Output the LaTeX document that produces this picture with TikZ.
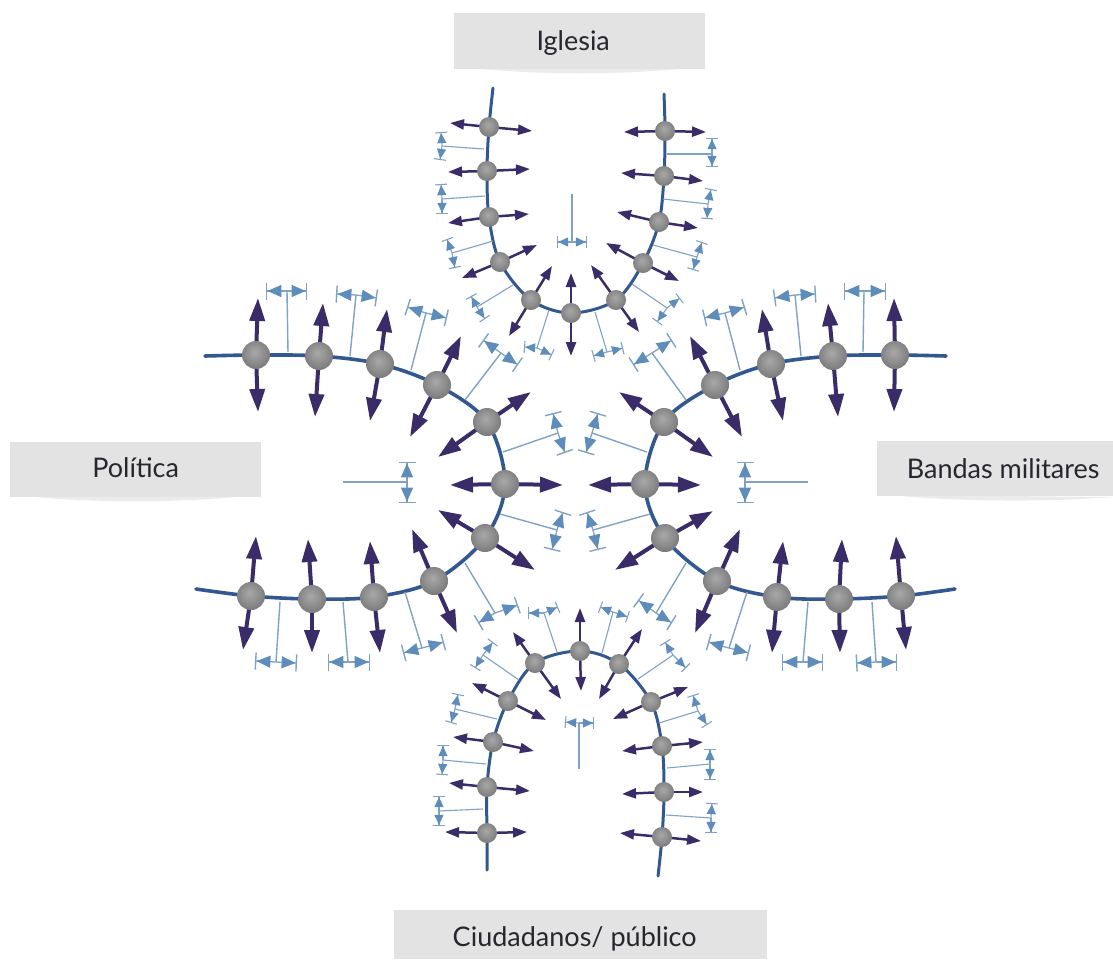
\documentclass[tikz,border=0pt]{standalone}
\usepackage{fontspec}
\setmainfont{Lato}
\usetikzlibrary{arrows.meta,backgrounds}
\definecolor{arrowc}{HTML}{3A2C68}
\definecolor{chainc}{HTML}{33578F}
\definecolor{dimc}{HTML}{5E8DBB}
\definecolor{stemc}{HTML}{7FA2C6}
\definecolor{boxc}{HTML}{E3E3E4}
\definecolor{labelc}{HTML}{26262E}
\pgfdeclareradialshading{ballshade}{\pgfpoint{-3bp}{6bp}}{%
  color(0bp)=(black!34);color(16bp)=(black!44);color(30bp)=(black!54);color(40bp)=(black!62);color(46bp)=(black!55);color(50bp)=(black!22)}
\tikzset{
  ballL/.style={circle,inner sep=0pt,minimum size=28pt,shading=ballshade},
  ballS/.style={circle,inner sep=0pt,minimum size=20pt,shading=ballshade},
  arrowL/.style={draw=arrowc,line width=4pt,-{Triangle[length=23pt,width=15pt,fill=arrowc]},shorten <=-1pt},
  arrowS/.style={draw=arrowc,line width=2.5pt,-{Triangle[length=14pt,width=10pt,fill=arrowc]},shorten <=-1pt},
  chainL/.style={draw=chainc,line width=3.6pt,line cap=round},
  chainS/.style={draw=chainc,line width=3pt,line cap=round},
  stemL/.style={draw=stemc,line width=1.4pt},
  stemS/.style={draw=stemc,line width=1.1pt},
  spanL/.style={draw=stemc,line width=1.3pt,-{Triangle[length=14pt,width=12pt,fill=dimc,color=dimc]Bar[width=17pt,line width=1.4pt,color=stemc]}},
  spanS/.style={draw=stemc,line width=1.1pt,-{Triangle[length=10pt,width=9pt,fill=dimc,color=dimc]Bar[width=12pt,line width=1.1pt,color=stemc]}},
  labelbox/.style={fill=boxc,inner sep=0pt,text=labelc,font=\fontsize{27}{31}\selectfont,anchor=north west,text height=16pt,text depth=0pt},
  soft/.style={fill=black!8}
}
% chain nodes with their two arrows: name/x/y/tip1x/tip1y/tip2x/tip2y
\newcommand{\ballset}[3]{%
  \foreach \nm/\x/\y/\ax/\ay/\bx/\by in {#3}{%
    \node[#1] (\nm) at (\x,\y) {};
    \coordinate (\nm a) at (\ax,\ay);
    \coordinate (\nm b) at (\bx,\by);
    \begin{pgfonlayer}{background}
      \draw[#2] (\nm) -- (\nm a);
      \draw[#2] (\nm) -- (\nm b);
    \end{pgfonlayer}
  }}
% gap markers: stem start/stem end/span end A/span end B
\newcommand{\gapset}[3]{%
  \foreach \sx/\sy/\mx/\my/\ax/\ay/\bx/\by in {#3}{%
    \coordinate (gs) at (\sx,\sy);
    \coordinate (gm) at (\mx,\my);
    \coordinate (ga) at (\ax,\ay);
    \coordinate (gb) at (\bx,\by);
    \draw[#1] (gs) -- (gm);
    \draw[#2] (gm) -- (ga);
    \draw[#2] (gm) -- (gb);
  }}
\begin{document}
\begin{tikzpicture}[x=1pt,y=-1pt]
\useasboundingbox (0,0) rectangle (1113,959);
% label shadows
\fill[soft] (470,68) .. controls (540,75) and (620,75) .. (690,68) -- cycle;
\fill[soft] (26,496) .. controls (90,503) and (180,503) .. (246,496) -- cycle;
\fill[soft] (890,495) .. controls (960,502) and (1050,502) .. (1113,497) -- cycle;
% labels
\node[labelbox,minimum width=251pt,minimum height=56pt] (iglesia) at (454,13) {\hspace*{-13pt}\raisebox{-1.5pt}{Iglesia}};
\node[labelbox,minimum width=251pt,minimum height=55pt] (politica) at (10,442) {\raisebox{0.5pt}{Política}};
\node[labelbox,minimum width=236pt,minimum height=55pt] (bandas) at (877,441) {\hspace*{16pt}\raisebox{-1.5pt}{Bandas militares}};
\node[labelbox,minimum width=373pt,minimum height=49pt] (ciudadanos) at (394,910) {\hspace*{-12pt}\raisebox{-4pt}{Ciudadanos/ público}};
% top chain
\ballset{ballS}{arrowS}{
 t1/489/127/450/123/532/131, t2/487/171/448/172/530/169, t3/489/217/448/223/529/214,
 t4/500/262/462/278/537/245, t5/531/300/552/266/509/336, t6/571/313/571/273/571/356,
 t7/616/300/591/265/639/332, t8/643/263/606/243/679/281, t9/659/222/617/212/698/228,
 t10/664/176/621/173/703/181, t11/665/131/624/132/706/132}
% bottom chain
\ballset{ballS}{arrowS}{
 b1/487/833/445/832/527/832, b2/487/787/449/783/530/791, b3/493/742/453/737/534/751,
 b4/508/701/472/683/546/720, b5/535/663/513/632/561/699, b6/580/651/580/608/581/691,
 b7/619/664/642/629/599/699, b8/651/702/688/687/613/719, b9/662/746/622/751/703/742,
 b10/664/792/622/794/703/792, b11/662/837/620/833/701/841}
% left chain
\ballset{ballL}{arrowL}{
 l1/256/355/258/298/258/412, l2/319/356/323/303/315/417, l3/380/364/387/309/370/421,
 l4/437/385/461/336/410/437, l5/487/422/531/392/438/457, l6/505/484/450/485/563/485,
 l7/485/538/438/510/535/570, l8/434/581/412/529/457/633, l9/374/597/370/541/380/653,
 l10/312/599/308/539/312/653, l11/251/596/256/536/243/650}
% right chain
\ballset{ballL}{arrowL}{
 r1/895/355/894/298/894/412, r2/833/356/828/303/838/417, r3/771/364/762/309/783/421,
 r4/715/385/690/336/742/437, r5/664/422/619/392/713/457, r6/645/484/588/485/701/485,
 r7/665/538/713/511/615/570, r8/717/581/740/529/695/633, r9/777/597/783/541/772/653,
 r10/839/599/842/539/840/653, r11/901/596/896/536/906/650}
% free chain ends
\coordinate (ts) at (493,88); \coordinate (te) at (664,94);
\coordinate (bs) at (487,870); \coordinate (be) at (658,876);
\coordinate (ls) at (205,356); \coordinate (le) at (196,589);
\coordinate (rs) at (946,356); \coordinate (re) at (955,589);
\begin{pgfonlayer}{background}
\draw[chainS] plot[smooth,tension=.55] coordinates {(ts)(t1)(t2)(t3)(t4)(t5)(t6)(t7)(t8)(t9)(t10)(t11)(te)};
\draw[chainS] plot[smooth,tension=.55] coordinates {(bs)(b1)(b2)(b3)(b4)(b5)(b6)(b7)(b8)(b9)(b10)(b11)(be)};
\draw[chainL] plot[smooth,tension=.55] coordinates {(ls)(l1)(l2)(l3)(l4)(l5)(l6)(l7)(l8)(l9)(l10)(l11)(le)};
\draw[chainL] plot[smooth,tension=.55] coordinates {(rs)(r1)(r2)(r3)(r4)(r5)(r6)(r7)(r8)(r9)(r10)(r11)(re)};
\end{pgfonlayer}
% gap markers, top
\gapset{stemS}{spanS}{
 484/149/442/146/441/132/440/160, 485/196/442/199/441/184/442/214,
 493/241/452/253/447/239/455/268, 513/285/477/307/471/296/485/319,
 549/310/537/348/524/347/552/355, 572/194/572/242/557/242/587/242,
 595/312/607/352/593/356/623/348, 632/284/667/308/657/322/680/298,
 653/245/697/257/693/270/702/242, 663/199/708/204/707/219/711/189,
 667/154/712/154/712/167/712/138}
% gap markers, bottom
\gapset{stemS}{spanS}{
 483/809/439/811/439/796/439/826, 486/764/443/760/443/745/442/775,
 497/719/455/709/458/694/451/723, 519/680/483/655/493/642/475/668,
 557/652/544/613/528/613/558/607, 579/769/579/723/565/722/594/723,
 602/653/613/612/600/607/628/617, 638/679/673/655/665/642/686/668,
 659/723/698/711/693/695/707/725, 667/768/710/764/710/749/710/780,
 666/815/711/818/712/803/711/833}
% gap markers, left
\gapset{stemL}{spanL}{
 288/352/287/291/266/291/307/291, 350/356/356/295/336/294/377/298,
 411/370/426/313/407/307/447/318, 465/400/501/353/483/340/518/365,
 503/452/558/433/553/413/565/453, 343/482/407/482/407/462/407/503,
 500/514/557/530/563/512/552/550, 465/563/495/613/478/623/518/605,
 405/592/422/648/403/653/444/642, 343/602/348/662/328/662/370/662,
 280/602/276/662/255/661/297/663}
% gap markers, right
\gapset{stemL}{spanL}{
 863/352/864/291/844/291/886/291, 801/356/795/295/774/298/816/294,
 740/370/725/313/704/318/745/307, 686/400/652/353/633/365/672/340,
 647/452/592/433/598/413/586/453, 808/482/745/482/745/462/745/503,
 650/514/593/530/587/512/598/550, 686/563/656/613/638/600/672/623,
 747/592/729/648/708/642/749/653, 808/602/803/662/782/662/823/662,
 872/602/876/662/856/663/897/662}
\end{tikzpicture}
\end{document}
